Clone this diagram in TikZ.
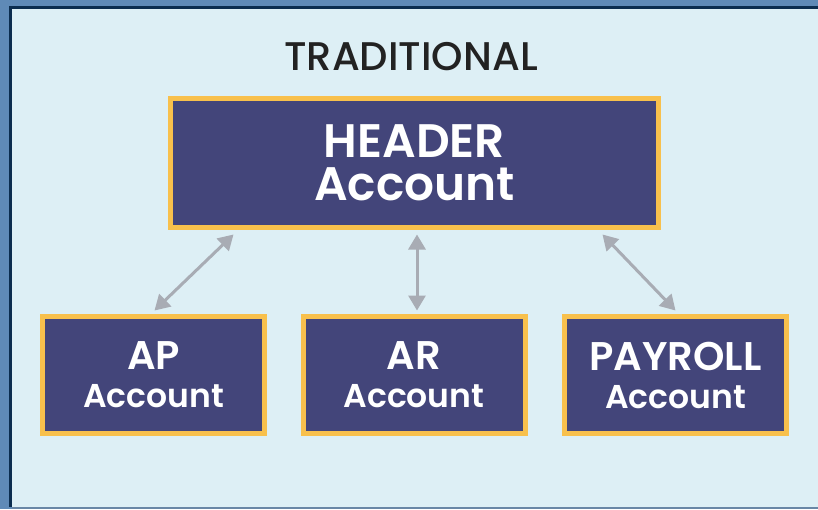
\documentclass[tikz,border=0pt]{standalone}
\usepackage{fontspec}
\setmainfont{Poppins}[BoldFont={Poppins SemiBold}]
\newfontfamily\titlefont{Poppins Medium}
\usetikzlibrary{arrows.meta}
\definecolor{frameblue}{RGB}{95,138,183}
\definecolor{paneblue}{RGB}{221,239,245}
\definecolor{edgenavy}{RGB}{11,45,79}
\definecolor{boxnavy}{RGB}{67,69,122}
\definecolor{boxgold}{RGB}{248,192,76}
\definecolor{linkgray}{RGB}{168,172,180}
\definecolor{titleink}{RGB}{34,34,34}

\begin{document}
\begin{tikzpicture}[
  x=1pt, y=-1pt,
  mainbox/.style={rectangle, draw=boxgold, fill=boxnavy, text=white,
                  line width=5pt, minimum width=488pt, minimum height=129pt,
                  align=center, inner sep=0pt,
                  font=\bfseries\fontsize{47}{43}\selectfont},
  subbox/.style={rectangle, draw=boxgold, fill=boxnavy, text=white,
                 line width=5pt, minimum width=222pt, minimum height=117pt,
                 align=center, inner sep=0pt,
                 font=\bfseries\fontsize{40}{38}\selectfont},
  link/.style={linkgray, line width=3pt,
               {Triangle[length=15pt, width=17pt]}-{Triangle[length=15pt, width=17pt]}}
]
  % frame and panel
  \fill[frameblue] (0, 0) rectangle (818, 509);
  \fill[paneblue] (10, 7) rectangle (818, 507);
  \fill[edgenavy] (9, 6) rectangle (818, 8.5);
  \fill[edgenavy] (9, 6) rectangle (12, 507);
  \fill[frameblue!70!gray] (12, 507) rectangle (818, 509);

  \node[text=titleink, font=\titlefont\fontsize{40}{40}\selectfont, anchor=base]
       (title) at (411, 70) {TRADITIONAL};

  \node[mainbox] (hdr) at (414.5, 163) {HEADER\\Account};

  \node[subbox] (ap)  at (153.5, 375) {AP\\{\fontsize{33}{38}\selectfont Account}};
  \node[subbox] (ar)  at (414, 375)   {AR\\{\fontsize{33}{38}\selectfont Account}};
  \node[subbox] (pay) at (675.5, 375) {PAYROLL\\{\fontsize{33}{38}\selectfont Account}};

  \draw[link] ([xshift=-181pt, yshift=-4.5pt]hdr.south) -- ([xshift=1pt, yshift=3.5pt]ap.north);
  \draw[link] ([xshift=2.5pt, yshift=-4.5pt]hdr.south) -- ([xshift=3pt, yshift=3.5pt]ar.north);
  \draw[link] ([xshift=188pt, yshift=-4.5pt]hdr.south) -- ([yshift=3.5pt]pay.north);
\end{tikzpicture}
\end{document}
